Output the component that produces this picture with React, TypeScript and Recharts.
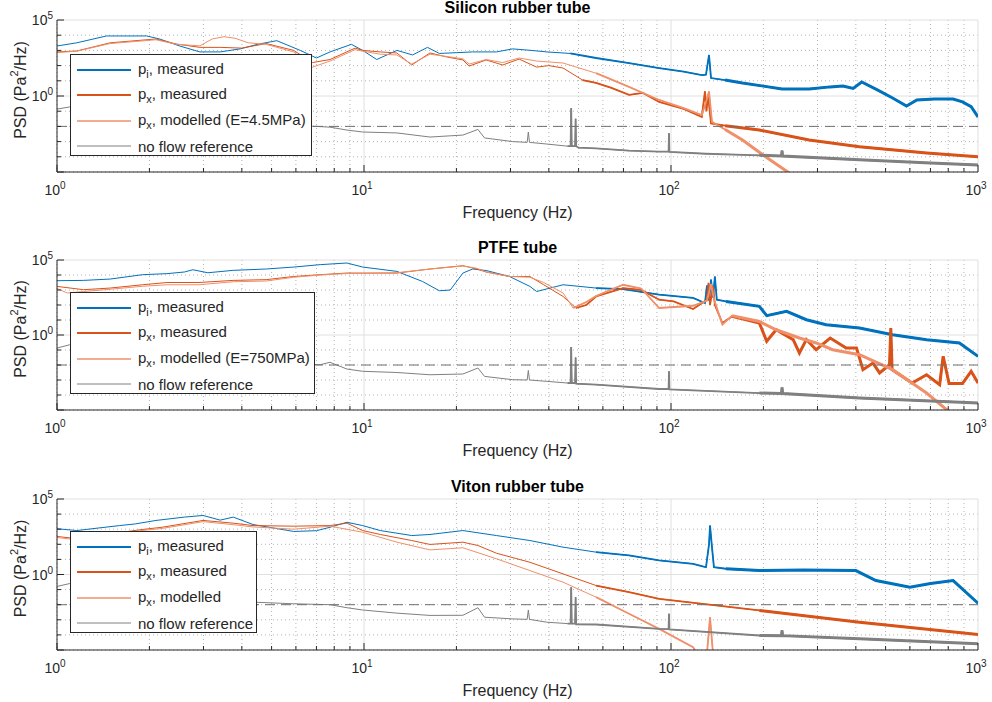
import React from "react";
import {
  CartesianGrid,
  Legend,
  Line,
  LineChart,
  ReferenceLine,
  XAxis,
  YAxis
} from "recharts";

const FONT = '"Liberation Sans", Arial, Helvetica, sans-serif';
const INK = "#262626";
const BLUE = "#0072BD";
const RED = "#D95319";
const SALMON = "#F0906A";
const GRAY = "#808080";

// axis ticks
const xTicks = [1, 2, 3, 4, 5, 6, 7, 8, 9, 10, 20, 30, 40, 50, 60, 70, 80, 90, 100, 200, 300, 400, 500, 600, 700, 800, 900, 1000];
const xMajor = [10, 100, 1000];
const yTicks = [1e-5, 1e-4, 1e-3, 1e-2, 1e-1, 1, 10, 100, 1e3, 1e4, 1e5];
const yMajor = [1, 1e5];
const yLabeled = [1, 1e5];
const noFlowLevel = 1e-2;

// PSD values are log10(Pa^2/Hz)
// --- Silicon rubber tube ---
const siPiF = [1, 1.16, 1.45, 1.96, 2.16, 2.5, 2.92, 3.4, 3.95, 4.5, 5.2, 6.2, 7, 7.75, 9.1, 9.9, 11, 12.8, 14.4, 16.1, 17.6, 20, 22.6, 27, 30.5, 35, 39.4, 47, 57, 73, 91.5, 110, 126, 130, 133, 135, 150, 171, 200, 230, 282, 330, 363, 392, 418, 470, 527, 585, 632, 720, 830, 890, 950, 1000];
const siPiV = [3.29, 3.5, 3.95, 3.95, 3.75, 3.3, 2.9, 2.9, 3.1, 3.4, 3.64, 3.0, 2.5, 2.9, 3.4, 3.0, 2.4, 3.0, 2.7, 3.2, 2.8, 2.85, 2.9, 2.9, 3.1, 3.0, 2.9, 2.8, 2.5, 2.17, 1.84, 1.6, 1.38, 1.4, 2.7, 1.18, 1.05, 0.85, 0.65, 0.46, 0.46, 0.6, 0.66, 0.5, 0.92, 0.4, -0.13, -0.66, -0.26, -0.2, -0.2, -0.39, -0.7, -1.38];
const siPxF = [1, 1.16, 1.49, 2.1, 2.45, 2.92, 3.4, 4.0, 4.8, 5.9, 6.8, 7.75, 9.35, 9.9, 11.3, 12.8, 14.3, 16.4, 18.6, 21, 22, 25, 28.3, 32, 36.5, 40, 44.5, 51.5, 57, 64, 73, 81, 91.5, 110, 126, 129, 130.5, 132, 135, 150, 194, 282, 411, 680, 1000];
const siPxV = [2.9, 2.96, 3.5, 3.75, 3.42, 3.2, 3.2, 3.15, 3.45, 3.0, 2.2, 2.4, 3.15, 3.0, 2.9, 2.83, 2.04, 2.83, 2.57, 2.37, 1.97, 2.37, 2.04, 2.43, 1.9, 2.0, 1.84, 1.05, 0.86, 0.53, 0.07, 0.2, -0.39, -0.85, -1.38, 0.3, -1.0, 0.1, -1.8, -1.95, -2.24, -2.9, -3.34, -3.75, -4.0];
const siModF = [1, 1.16, 1.49, 2.1, 2.45, 2.92, 3.2, 3.5, 3.8, 4.2, 4.8, 5.9, 6.8, 7.75, 9.35, 9.9, 11.3, 12.8, 14.3, 16.4, 18.6, 21, 22, 25, 28.3, 32, 36.5, 44.5, 57, 73, 91.5, 110, 126, 131, 133, 136, 150, 171, 200, 240, 300];
const siModV = [2.85, 2.95, 3.45, 3.7, 3.4, 3.3, 3.75, 3.9, 3.8, 3.5, 3.4, 2.9, 1.9, 2.3, 3.05, 2.95, 2.75, 2.7, 2.1, 2.75, 2.6, 2.45, 2.1, 2.4, 2.2, 2.5, 2.3, 2.17, 1.5, 0.6, -0.26, -0.8, -1.25, -0.2, 0.3, -1.7, -2.2, -2.9, -3.9, -5.0, -6.5];
const siRefF = [1, 1.1, 1.3, 1.6, 2, 3, 4, 5, 6, 7, 7.75, 8.8, 9.9, 12.8, 16.4, 21, 23.5, 24.7, 30.5, 34.0, 34.3, 34.6, 39.4, 46, 47.1, 47.3, 47.5, 48.7, 48.9, 49.1, 50, 57, 73, 91.5, 98.2, 98.5, 98.8, 130, 194, 229, 230, 231, 411, 700, 1000];
const siRefV = [-0.86, -0.72, -1.0, -1.2, -1.4, -1.6, -1.75, -1.85, -1.95, -2.0, -2.05, -2.24, -2.37, -2.43, -2.7, -2.57, -2.2, -2.76, -3.0, -3.05, -2.37, -3.05, -3.16, -3.3, -3.3, -0.8, -3.3, -3.3, -1.5, -3.3, -3.4, -3.45, -3.6, -3.66, -3.66, -2.45, -3.68, -3.8, -3.9, -3.95, -3.6, -3.95, -4.2, -4.4, -4.54];

// --- PTFE tube ---
const ptPiF = [1, 1.22, 1.49, 1.9, 2.28, 2.6, 2.77, 3.1, 3.75, 4.8, 5.9, 7.2, 8.8, 9.9, 12.8, 15.5, 17.6, 19.1, 21, 22.6, 25, 29.8, 34.7, 36.5, 44.5, 57, 69.8, 91.5, 118, 129, 131, 133, 135, 137, 139, 141, 151, 194, 205, 238, 276, 320, 411, 527, 680, 870, 1000];
const ptPiV = [3.62, 3.64, 3.73, 4.02, 4.09, 4.2, 4.35, 4.15, 4.31, 4.4, 4.53, 4.69, 4.8, 4.53, 4.24, 3.57, 2.95, 3.0, 4.13, 4.4, 4.3, 3.9, 3.24, 2.9, 3.35, 3.13, 3.06, 2.69, 2.47, 2.13, 3.3, 2.3, 3.69, 2.5, 3.9, 2.35, 2.24, 1.91, 1.29, 1.58, 1.02, 0.69, 0.47, 0.02, -0.31, -0.53, -1.42];
const ptPxF = [1, 1.22, 1.49, 1.9, 2.28, 2.9, 3.75, 4.8, 5.9, 7.2, 8.8, 9.9, 12.8, 16.4, 21, 23.3, 25, 29.8, 34.7, 38.5, 44.5, 49, 53, 57, 69.8, 80, 91.5, 102, 118, 131, 132.5, 134, 137, 139, 147, 158, 194, 205, 220, 250, 262, 276, 297, 330, 372, 402, 422, 455, 478, 515, 520, 525, 610, 680, 750, 770, 805, 890, 950, 1000];
const ptPxV = [3.24, 3.02, 3.13, 3.35, 3.5, 3.5, 3.64, 3.69, 3.9, 4.02, 4.13, 4.13, 4.13, 4.4, 4.62, 4.4, 4.2, 3.9, 3.9, 3.35, 2.57, 1.8, 2.0, 2.57, 3.13, 3.0, 2.35, 2.24, 1.73, 2.35, 3.47, 2.0, 3.24, 2.0, 0.8, 1.24, 0.8, -0.42, 0.35, -0.31, -1.2, -0.3, -0.98, -0.2, -0.87, -0.87, -2.31, -1.87, -2.53, -1.98, 0.47, -2.31, -3.2, -2.65, -3.31, -1.42, -3.24, -3.24, -2.42, -3.2];
const ptModF = [1, 1.08, 1.22, 1.49, 1.9, 2.28, 2.9, 3.75, 4.8, 5.9, 7.2, 8.8, 9.9, 12.8, 16.4, 21, 23.3, 25, 29.8, 34.7, 38.5, 44.5, 48, 53, 57, 69.8, 80, 91.5, 118, 131, 135, 138, 144, 147, 158, 194, 220, 262, 297, 336, 411, 527, 680, 790, 900];
const ptModV = [3.1, 2.8, 2.9, 3.05, 3.25, 3.35, 3.35, 3.55, 3.6, 3.85, 4.0, 4.1, 4.1, 4.15, 4.4, 4.6, 4.45, 4.2, 3.9, 3.85, 3.5, 2.8, 1.8, 2.2, 2.6, 3.35, 3.1, 1.8, 1.95, 2.3, 3.4, 2.4, 1.24, 0.69, 1.29, 0.9, 0.35, -0.2, -0.53, -0.98, -1.31, -2.31, -3.87, -4.98, -6];
const ptRefF = [1, 1.1, 1.3, 2, 4, 7.2, 7.75, 8.8, 9.9, 12.8, 16.4, 21, 23.5, 24.7, 30.5, 34.0, 34.3, 34.6, 39.4, 46, 47.1, 47.3, 47.5, 48.7, 48.9, 49.1, 57, 91.5, 98.2, 98.5, 98.8, 194, 229, 230, 231, 411, 1000];
const ptRefV = [-0.87, -0.65, -1.0, -1.4, -1.8, -1.98, -1.82, -2.27, -2.42, -2.5, -2.65, -2.6, -2.2, -2.76, -2.98, -3.0, -2.36, -3.0, -3.09, -3.2, -3.2, -0.8, -3.2, -3.2, -1.5, -3.25, -3.31, -3.6, -3.6, -2.42, -3.62, -3.87, -3.9, -3.5, -3.9, -4.2, -4.53];

// --- Viton rubber tube ---
const viPiF = [1, 1.16, 1.38, 1.6, 1.8, 2.1, 2.6, 2.99, 3.4, 3.75, 4.35, 5.9, 7, 7.75, 8.8, 9.9, 11.3, 14.3, 16.4, 21, 27, 34.7, 44.5, 57, 73, 91.5, 118, 126, 130, 133, 134, 136, 138, 151, 194, 270, 400, 465, 600, 700, 830, 1000];
const viPiV = [3.03, 2.91, 3.09, 3.24, 3.35, 3.58, 3.8, 3.91, 3.6, 3.8, 3.31, 2.85, 2.9, 3.13, 3.46, 3.24, 2.91, 2.58, 2.65, 2.91, 2.58, 2.25, 1.81, 1.48, 1.26, 0.93, 0.71, 0.55, 0.48, 2.0, 3.24, 1.8, 0.48, 0.38, 0.26, 0.3, 0.26, -0.4, -0.84, -0.6, -0.4, -1.9];
const viPxF = [1, 1.16, 1.86, 2.2, 2.99, 3.75, 4.35, 5.9, 7.75, 8.8, 9.9, 11.3, 14.3, 16.4, 21, 23.5, 27, 34.7, 44.5, 57, 73, 91.5, 194, 411, 1000];
const viPxV = [2.52, 2.37, 2.96, 3.13, 3.58, 3.4, 3.24, 3.2, 3.24, 3.4, 2.91, 2.65, 2.25, 1.99, 2.14, 1.92, 1.41, 0.81, 0.04, -0.73, -1.17, -1.61, -2.38, -3.16, -3.97];
const viModF = [1, 1.16, 1.86, 2.2, 2.99, 3.75, 4.35, 5.9, 7.75, 9.9, 12.8, 16.4, 21, 27, 34.7, 44.5, 57, 73, 91.5, 118, 125, 130, 134, 138, 145];
const viModV = [2.45, 2.3, 2.9, 3.05, 3.5, 3.3, 3.15, 3.0, 3.2, 2.8, 2.14, 1.63, 1.77, 1.04, 0.26, -0.51, -1.5, -2.6, -3.6, -4.81, -5.6, -6, -2.83, -6, -6.5];
const viRefF = [1, 1.1, 1.3, 2, 4.35, 5.9, 7.75, 8.8, 9.9, 12.8, 16.4, 21, 23.5, 24.7, 30.5, 34.0, 34.3, 34.6, 39.4, 46, 47.1, 47.3, 47.5, 48.7, 48.9, 49.1, 57, 91.5, 98.2, 98.5, 98.8, 194, 229, 230, 231, 411, 1000];
const viRefV = [-0.79, -0.6, -0.9, -1.4, -1.83, -1.94, -2.0, -2.2, -2.35, -2.56, -2.71, -2.7, -2.2, -2.83, -2.94, -2.97, -2.35, -2.97, -3.16, -3.25, -3.25, -0.84, -3.25, -3.25, -1.5, -3.3, -3.31, -3.6, -3.62, -2.6, -3.64, -4.04, -4.05, -3.7, -4.05, -4.26, -4.59];

type Pt = { f: number; v: number };

const toPts = (f: number[], v: number[]): Pt[] =>
  f.map((x, i) => ({ f: x, v: Math.pow(10, v[i]) }));

const from = (pts: Pt[], lo: number) => pts.filter((p) => p.f >= lo);

const isDecade = (v: number) => {
  const l = Math.log10(v);
  return Math.abs(l - Math.round(l)) < 1e-9;
};

const XTick = (props: any) => {
  const { x, y, payload } = props;
  const major = isDecade(payload.value);
  const e = Math.round(Math.log10(payload.value));
  return (
    <g>
      <line x1={x} x2={x} y1={y} y2={y - (major ? 7 : 4)} stroke={INK} />
      {major && (
        <text x={x - 2} y={y + 23} textAnchor="middle" fill={INK} fontSize={14} fontFamily={FONT}>
          10<tspan dy={-6} fontSize={10}>{e}</tspan>
        </text>
      )}
    </g>
  );
};

const YTick = (props: any) => {
  const { x, y, payload } = props;
  const major = isDecade(payload.value) && Math.round(Math.log10(payload.value)) % 5 === 0;
  const e = Math.round(Math.log10(payload.value));
  return (
    <g>
      <line x1={x} x2={x + (major ? 7 : 4)} y1={y} y2={y} stroke={INK} />
      {yLabeled.includes(payload.value) && (
        <text x={x - 4} y={y + 5} textAnchor="end" fill={INK} fontSize={14} fontFamily={FONT}>
          10<tspan dy={-6} fontSize={10}>{e}</tspan>
        </text>
      )}
    </g>
  );
};

const YLabel = (props: any) => {
  const { viewBox } = props;
  const cx = viewBox.x + 20;
  const cy = viewBox.y + viewBox.height / 2 - 6;
  return (
    <text
      x={cx}
      y={cy}
      transform={`rotate(-90 ${cx} ${cy})`}
      textAnchor="middle"
      dominantBaseline="central"
      fill={INK}
      fontSize={16}
      fontFamily={FONT}
    >
      PSD (Pa<tspan dy={-6} fontSize={11}>2</tspan>
      <tspan dy={6}>/Hz)</tspan>
    </text>
  );
};

interface Series {
  key: string;
  color: string;
  pts: Pt[];
}

interface LegendEntry {
  color: string;
  width: number;
  sub?: string;
  text: string;
}

const LegendBox = ({ entries, width }: { entries: LegendEntry[]; width: number }) => (
  <div
    style={{
      width,
      height: 102,
      boxSizing: "border-box",
      border: `1px solid ${INK}`,
      background: "#fff",
      paddingTop: 2,
      fontFamily: FONT,
      fontSize: 15,
      color: INK
    }}
  >
    {entries.map((e) => (
      <div key={e.text + e.color} style={{ height: 25.5, display: "flex", alignItems: "center", whiteSpace: "nowrap" }}>
        <svg width={67} height={10} style={{ flex: "none" }}>
          <line x1={6} x2={60} y1={5} y2={5} stroke={e.color} strokeWidth={e.width} />
        </svg>
        <span>
          {e.sub ? (
            <>
              p<sub style={{ fontSize: 11 }}>{e.sub}</sub>
            </>
          ) : null}
          {e.text}
        </span>
      </div>
    ))}
  </div>
);

const Panel = ({
  title,
  top,
  height,
  series,
  legend,
  legendWidth,
  legendTop
}: {
  title: string;
  top: number;
  height: number;
  series: Series[];
  legend: LegendEntry[];
  legendWidth: number;
  legendTop: number;
}) => (
  <div style={{ position: "absolute", left: 0, top, width: 992, height }}>
    <div
      style={{
        position: "absolute",
        left: 57,
        width: 921,
        top: -1,
        textAlign: "center",
        fontFamily: FONT,
        fontWeight: "bold",
        fontSize: 16,
        color: "#000",
        lineHeight: "18px"
      }}
    >
      {title}
    </div>
    <LineChart width={992} height={height} margin={{ top: 20, right: 14, bottom: 12, left: 0 }}>
      <CartesianGrid
        horizontalValues={yTicks.filter((t) => !yMajor.includes(t))}
        verticalValues={xTicks.filter((t) => !xMajor.includes(t))}
        stroke="#b4b4b4"
        strokeDasharray="1 3"
      />
      <CartesianGrid
        horizontalValues={yMajor}
        verticalValues={xMajor}
        stroke="#e0e0e0"
      />
      <XAxis
        dataKey="f"
        type="number"
        scale="log"
        domain={[1, 1000]}
        allowDataOverflow
        ticks={xTicks}
        interval={0}
        tick={<XTick />}
        tickSize={0}
        tickMargin={0}
        height={46}
        axisLine={{ stroke: INK }}
        tickLine={false}
        label={{ value: "Frequency (Hz)", position: "insideBottom", offset: 0, fontSize: 16, fontFamily: FONT, fill: INK }}
      />
      <YAxis
        dataKey="v"
        type="number"
        scale="log"
        domain={[1e-5, 1e5]}
        allowDataOverflow
        ticks={yTicks}
        interval={0}
        tick={<YTick />}
        tickSize={0}
        tickMargin={0}
        width={57}
        axisLine={{ stroke: INK }}
        tickLine={false}
        label={<YLabel />}
      />
      {series.flatMap((s) => [
        <Line key={s.key} data={s.pts} dataKey="v" stroke={s.color} strokeWidth={1} dot={false} isAnimationActive={false} />,
        <Line key={s.key + "m"} data={from(s.pts, 45)} dataKey="v" stroke={s.color} strokeWidth={1.8} dot={false} isAnimationActive={false} />,
        <Line key={s.key + "h"} data={from(s.pts, 150)} dataKey="v" stroke={s.color} strokeWidth={3} dot={false} isAnimationActive={false} />
      ])}
      <ReferenceLine y={noFlowLevel} stroke="#707070" strokeDasharray="10 6" />
      <Legend
        layout="horizontal"
        verticalAlign="middle"
        align="center"
        wrapperStyle={{ position: "absolute", left: 70, top: legendTop, width: legendWidth }}
        content={() => <LegendBox entries={legend} width={legendWidth} />}
      />
    </LineChart>
  </div>
);

const legendFor = (model: string): LegendEntry[] => [
  { color: BLUE, width: 2, sub: "i", text: ", measured" },
  { color: RED, width: 2, sub: "x", text: ", measured" },
  { color: SALMON, width: 1.5, sub: "x", text: model },
  { color: GRAY, width: 1, text: "no flow reference" }
];

export default function App() {
  const silicon: Series[] = [
    { key: "pi", color: BLUE, pts: toPts(siPiF, siPiV) },
    { key: "px", color: RED, pts: toPts(siPxF, siPxV) },
    { key: "mod", color: SALMON, pts: toPts(siModF, siModV) },
    { key: "ref", color: GRAY, pts: toPts(siRefF, siRefV) }
  ];
  const ptfe: Series[] = [
    { key: "pi", color: BLUE, pts: toPts(ptPiF, ptPiV) },
    { key: "px", color: RED, pts: toPts(ptPxF, ptPxV) },
    { key: "mod", color: SALMON, pts: toPts(ptModF, ptModV) },
    { key: "ref", color: GRAY, pts: toPts(ptRefF, ptRefV) }
  ];
  const viton: Series[] = [
    { key: "pi", color: BLUE, pts: toPts(viPiF, viPiV) },
    { key: "px", color: RED, pts: toPts(viPxF, viPxV) },
    { key: "mod", color: SALMON, pts: toPts(viModF, viModV) },
    { key: "ref", color: GRAY, pts: toPts(viRefF, viRefV) }
  ];

  return (
    <div style={{ position: "absolute", left: 0, top: 0, width: 992, height: 702, background: "#fff" }}>
      <Panel title="Silicon rubber tube" top={0} height={230} series={silicon} legend={legendFor(", modelled (E=4.5MPa)")} legendWidth={242} legendTop={54} />
      <Panel title="PTFE tube" top={240} height={228} series={ptfe} legend={legendFor(", modelled (E=750MPa)")} legendWidth={245} legendTop={52} />
      <Panel title="Viton rubber tube" top={479} height={229} series={viton} legend={legendFor(", modelled")} legendWidth={187} legendTop={52} />
    </div>
  );
}
